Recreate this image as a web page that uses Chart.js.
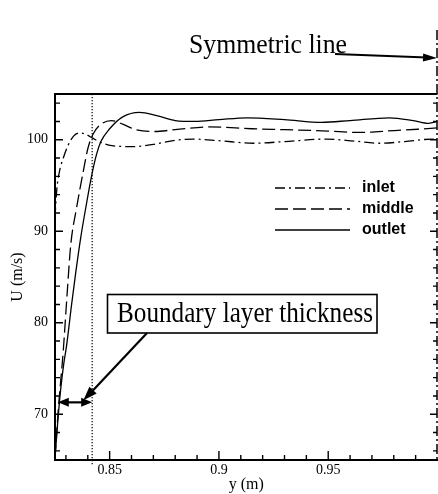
<!DOCTYPE html>
<html>
<head>
<meta charset="utf-8">
<script src="https://cdn.jsdelivr.net/npm/chart.js@4.4.0/dist/chart.umd.min.js"></script>
<style>
  html, body { margin: 0; padding: 0; background: #fff; overflow: hidden; }
  canvas { display: block; }
</style>
</head>
<body>
<canvas id="profile" width="438" height="494"></canvas>
<script>
// velocity profiles U(y) near the wall, three stations

const inletY = [0.8250, 0.8258, 0.8270, 0.8288, 0.8310, 0.8335, 0.8362, 0.8390, 0.8420, 0.8460,
                0.8510, 0.8610, 0.8700, 0.8800, 0.8886, 0.9000, 0.9159, 0.9300, 0.9491, 0.9620,
                0.9736, 0.9850, 0.9977, 1.0000];
const inletU = [91.5, 94.5, 96.5, 98.0, 99.4, 100.4, 100.75, 100.6, 100.2, 99.7,
                99.35, 99.25, 99.5, 99.95, 100.07, 99.9, 99.62, 99.8, 100.07, 99.85,
                99.62, 99.8, 100.07, 99.95];

const middleY = [0.8250, 0.8265, 0.8288, 0.8305, 0.8322, 0.8349, 0.8379, 0.8401, 0.8424, 0.8455,
                 0.8508, 0.8560, 0.8620, 0.8700, 0.8800, 0.8955, 0.9150, 0.9300, 0.9500, 0.9636,
                 0.9800, 0.9910, 1.0000];
const middleU = [65.2, 70.5, 77.0, 83.0, 88.5, 92.6, 96.5, 99.1, 100.6, 101.6,
                 102.1, 101.7, 101.1, 100.9, 101.1, 101.4, 101.2, 101.1, 100.95, 100.8,
                 101.0, 101.15, 101.3];

const outletY = [0.8250, 0.8262, 0.8275, 0.8290, 0.8303, 0.8326, 0.8345, 0.8367, 0.8394, 0.8417,
                 0.8440, 0.8460, 0.8500, 0.8560, 0.8636, 0.8720, 0.8800, 0.8890, 0.9000, 0.9130,
                 0.9300, 0.9470, 0.9600, 0.9780, 0.9890, 0.9960, 1.0000];
const outletU = [65.2, 69.0, 72.5, 75.5, 77.5, 82.0, 85.5, 89.2, 93.0, 96.0,
                 98.4, 99.8, 101.2, 102.5, 103.0, 102.6, 102.1, 102.0, 102.2, 102.4,
                 102.2, 101.9, 102.1, 102.4, 102.1, 101.8, 102.0];

const xTickLabels = [0.85, 0.9, 0.95];
const yTickLabels = [70, 80, 90, 100];

// boundary layer edge and the marker drawn at it
const layerEdge = 0.842;
const markerU = 71.3;
const markerStart = 0.8263;

function toPoints(xs, us) {
    return xs.map((v, i) => ({ x: v, y: us[i] }));
}

const serif = 'Liberation Serif, Times New Roman, serif';

function arrowHead(ctx, x1, y1, x2, y2, len, half) {
    const ang = Math.atan2(y2 - y1, x2 - x1);
    ctx.beginPath();
    ctx.moveTo(x2, y2);
    ctx.lineTo(x2 - len * Math.cos(ang) + half * Math.sin(ang), y2 - len * Math.sin(ang) - half * Math.cos(ang));
    ctx.lineTo(x2 - len * Math.cos(ang) - half * Math.sin(ang), y2 - len * Math.sin(ang) + half * Math.cos(ang));
    ctx.closePath();
    ctx.fill();
}

// frame, inward ticks, legend and annotations
const decorations = {
    id: 'decorations',
    afterDatasetsDraw(chart) {
        const { ctx, chartArea: a, scales: { x, y } } = chart;
        ctx.save();
        ctx.strokeStyle = '#000';
        ctx.fillStyle = '#000';

        // dotted line at the boundary layer edge
        const xe = x.getPixelForValue(layerEdge);
        ctx.lineWidth = 1.2;
        ctx.setLineDash([1.3, 1.7]);
        ctx.beginPath();
        ctx.moveTo(xe, a.top);
        ctx.lineTo(xe, a.bottom + 6);
        ctx.stroke();
        ctx.setLineDash([]);

        // top border
        ctx.lineWidth = 2;
        ctx.beginPath();
        ctx.moveTo(a.left, a.top);
        ctx.lineTo(a.right, a.top);
        ctx.stroke();

        // symmetric line on the right edge
        const xs = x.getPixelForValue(1.0) - 0.5;
        ctx.lineWidth = 1.5;
        ctx.setLineDash([10, 3, 2, 3]);
        ctx.beginPath();
        ctx.moveTo(xs, 30);
        ctx.lineTo(xs, a.bottom);
        ctx.stroke();
        ctx.setLineDash([]);

        // inward tick marks
        ctx.lineWidth = 1.4;
        for (let v = 0.83; v < 0.995; v += 0.01) {
            const px = x.getPixelForValue(v);
            const major = Math.abs(v * 20 - Math.round(v * 20)) < 1e-6;
            ctx.beginPath();
            ctx.moveTo(px, a.bottom);
            ctx.lineTo(px, a.bottom - (major ? 9 : 5));
            ctx.stroke();
        }
        for (let v = 66; v <= 104; v += 2) {
            const py = y.getPixelForValue(v);
            const major = v % 10 === 0;
            ctx.beginPath();
            ctx.moveTo(a.left, py);
            ctx.lineTo(a.left + (major ? 8 : 5), py);
            ctx.moveTo(xs, py);
            ctx.lineTo(xs - (major ? 7 : 4), py);
            ctx.stroke();
        }

        // legend
        const rows = [188, 209, 230];
        ctx.font = 'bold 16px Liberation Sans, Arial, sans-serif';
        ctx.textBaseline = 'middle';
        chart.data.datasets.forEach((ds, i) => {
            ctx.lineWidth = 1.3;
            ctx.setLineDash(ds.borderDash);
            ctx.beginPath();
            ctx.moveTo(275, rows[i]);
            ctx.lineTo(350, rows[i]);
            ctx.stroke();
            ctx.setLineDash([]);
            ctx.fillText(ds.label, 362, rows[i]);
        });

        // "Symmetric line" label and arrow
        ctx.font = '27px ' + serif;
        ctx.textBaseline = 'alphabetic';
        ctx.fillText('Symmetric line', 189, 53, 158);
        ctx.lineWidth = 2;
        ctx.beginPath();
        ctx.moveTo(335, 54);
        ctx.lineTo(xs - 10, 57.5);
        ctx.stroke();
        arrowHead(ctx, 335, 54, xs, 58, 14, 4);

        // boundary layer thickness box
        ctx.lineWidth = 1.6;
        ctx.strokeRect(107.5, 294.5, 269.5, 38.5);
        ctx.font = '29px ' + serif;
        ctx.fillText('Boundary layer thickness', 117, 322, 256);

        // pointer arrow from the box to the marker
        const ym = y.getPixelForValue(markerU);
        const tipX = x.getPixelForValue(0.8380), tipY = ym - 2;
        ctx.lineWidth = 2.2;
        ctx.beginPath();
        ctx.moveTo(147, 333);
        ctx.lineTo(tipX + 5, tipY - 5);
        ctx.stroke();
        arrowHead(ctx, 147, 333, tipX, tipY, 14, 5);

        // double arrow spanning the layer
        const xa = x.getPixelForValue(markerStart);
        ctx.lineWidth = 2.2;
        ctx.beginPath();
        ctx.moveTo(xa + 8, ym);
        ctx.lineTo(xe - 8, ym);
        ctx.stroke();
        arrowHead(ctx, xe, ym, xa, ym, 11, 4.5);
        arrowHead(ctx, xa, ym, xe, ym, 11, 4.5);

        ctx.restore();
    }
};

const lineStyle = {
    borderColor: '#000',
    borderWidth: 1.3,
    pointRadius: 0,
    fill: false,
    cubicInterpolationMode: 'monotone'
};

new Chart(document.getElementById('profile'), {
    type: 'line',
    data: {
        datasets: [
            Object.assign({ label: 'inlet', data: toPoints(inletY, inletU), borderDash: [10, 4, 2, 4] }, lineStyle),
            Object.assign({ label: 'middle', data: toPoints(middleY, middleU), borderDash: [13, 5] }, lineStyle),
            Object.assign({ label: 'outlet', data: toPoints(outletY, outletU), borderDash: [] }, lineStyle)
        ]
    },
    options: {
        responsive: false,
        animation: false,
        devicePixelRatio: 1,
        layout: { padding: { top: 94, right: 0.5, left: 0, bottom: 0 } },
        plugins: {
            legend: { display: false },
            tooltip: { enabled: false }
        },
        scales: {
            x: {
                type: 'linear',
                min: 0.825,
                max: 1.0,
                afterFit(scale) { scale.height = 34; },
                afterBuildTicks(scale) { scale.ticks = xTickLabels.map(v => ({ value: v })); },
                grid: { drawOnChartArea: false, drawTicks: false },
                border: { display: true, color: '#000', width: 2 },
                ticks: {
                    color: '#000',
                    padding: 2,
                    font: { family: serif, size: 14 },
                    callback: v => String(v)
                },
                title: {
                    display: true,
                    text: 'y (m)',
                    color: '#000',
                    padding: { top: 0, bottom: 0 },
                    font: { family: serif, size: 16 }
                }
            },
            y: {
                min: 65,
                max: 105,
                afterFit(scale) { scale.width = 55; },
                afterBuildTicks(scale) { scale.ticks = yTickLabels.map(v => ({ value: v })); },
                grid: { drawOnChartArea: false, drawTicks: false },
                border: { display: true, color: '#000', width: 2 },
                ticks: {
                    color: '#000',
                    padding: 7,
                    font: { family: serif, size: 14 },
                    callback: v => String(v)
                },
                title: {
                    display: true,
                    text: 'U (m/s)',
                    color: '#000',
                    padding: { top: 8, bottom: 0 },
                    font: { family: serif, size: 16 }
                }
            }
        }
    },
    plugins: [decorations]
});
</script>
</body>
</html>
